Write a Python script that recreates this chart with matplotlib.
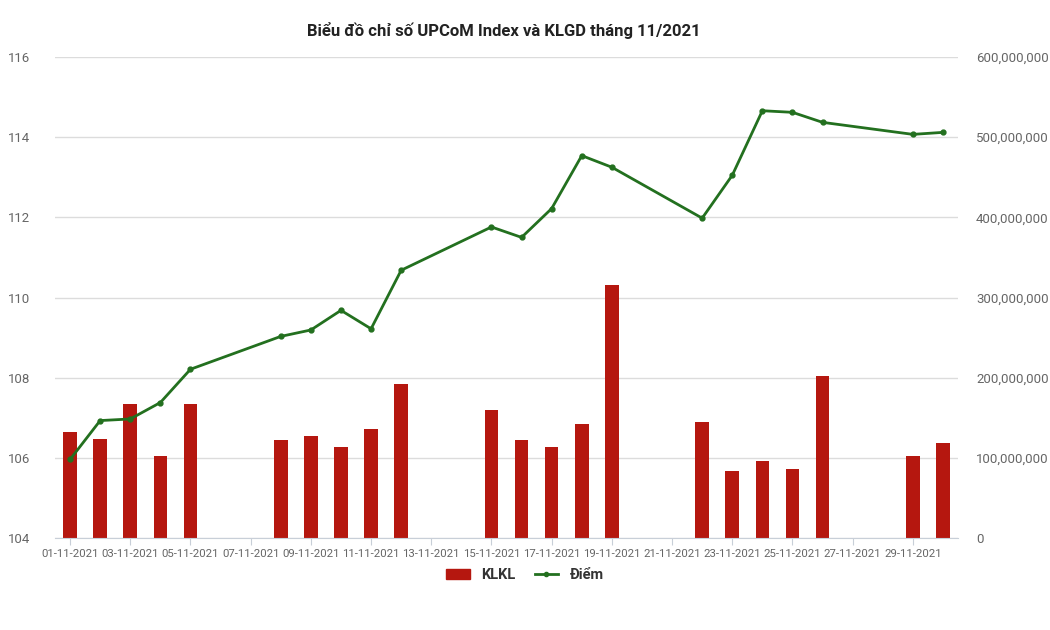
import matplotlib
matplotlib.use("Agg")
import matplotlib.pyplot as plt
from matplotlib.ticker import FuncFormatter
from matplotlib.lines import Line2D
from matplotlib.patches import Patch

plt.rcParams['font.family'] = ['Roboto', 'DejaVu Sans']

days = list(range(1, 31))
trade_days = [1, 2, 3, 4, 5, 8, 9, 10, 11, 12, 15, 16, 17, 18, 19, 22, 23, 24, 25, 26, 29, 30]
klkl = [132e6, 124e6, 167e6, 102e6, 167e6, 122e6, 127e6, 113e6, 136e6, 192e6, 160e6,
        122e6, 113e6, 142e6, 316e6, 145e6, 84e6, 96e6, 86e6, 202e6, 102e6, 118e6]
diem = [105.96, 106.93, 106.97, 107.38, 108.21, 109.03, 109.19, 109.68, 109.22, 110.68, 111.76,
        111.50, 112.22, 113.54, 113.25, 111.98, 113.05, 114.66, 114.62, 114.37, 114.07, 114.12]
tick_labels = ["%02d-11-2021" % d for d in days]

fig = plt.figure(figsize=(10.5, 6.3), dpi=100)
ax = fig.add_axes([0.0524, 0.146, 0.86, 0.7635])
ax2 = ax.twinx()

bar_color = '#B5170F'
line_color = '#23701F'

ax2.bar(trade_days, klkl, width=0.45, color=bar_color, zorder=2)
ax2.set_ylim(0, 600e6)
ax2.set_yticks([0, 100e6, 200e6, 300e6, 400e6, 500e6, 600e6])
ax2.yaxis.set_major_formatter(FuncFormatter(lambda v, p: f"{int(v):,}"))

ax.set_ylim(104, 116)
ax.set_yticks(range(104, 117, 2))
ax.set_xlim(0.5, 30.5)
ax.set_xticks(days[::2])
ax.set_xticklabels(tick_labels[::2])

ax.set_zorder(ax2.get_zorder() + 1)
ax.patch.set_visible(False)
ax.plot(trade_days, diem, color=line_color, lw=2, marker='o', ms=3.5, zorder=5)

ax2.grid(axis='y', color='#dcdcdc', lw=1, zorder=0)
for a in (ax, ax2):
    for s in a.spines.values():
        s.set_visible(False)
ax.spines['bottom'].set_visible(True)
ax.spines['bottom'].set_color('#c8cfd8')

ax.tick_params(axis='y', length=0, labelsize=9.5, labelcolor='#666666', pad=18)
ax2.tick_params(axis='y', length=0, labelsize=9.5, labelcolor='#666666', pad=13)
ax.tick_params(axis='x', length=5, color='#c8cfd8', labelsize=8.2, labelcolor='#666666', pad=3)

fig.suptitle("Biểu đồ chỉ số UPCoM Index và KLGD tháng 11/2021", x=0.48, y=0.965,
             fontsize=12, fontweight='bold', color='#222222')

handles = [Patch(color=bar_color, label='KLKL'),
           Line2D([0], [0], color=line_color, lw=2, marker='o', ms=3, label='Điểm')]
fig.legend(handles=handles, loc='center', bbox_to_anchor=(0.5, 0.087), ncol=2, frameon=False,
           fontsize=10.5, handlelength=1.6, columnspacing=1.3)
for t in fig.legends[0].get_texts():
    t.set_fontweight('bold')
    t.set_color('#333333')

fig.savefig("out.png", dpi=100, facecolor='white')
